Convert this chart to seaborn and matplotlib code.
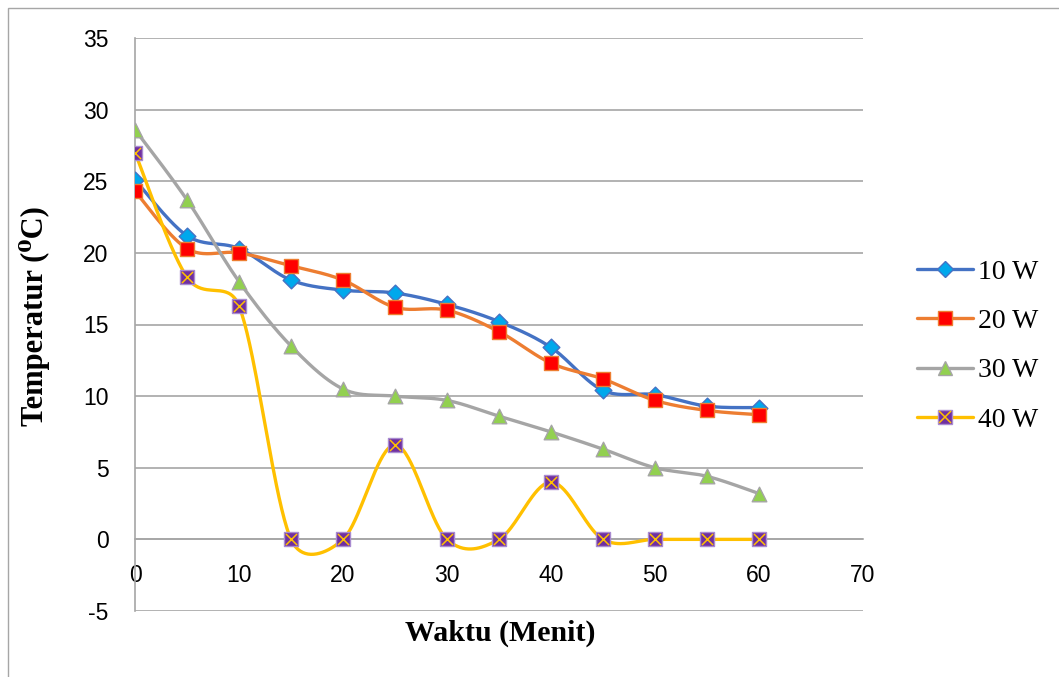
import numpy as np
import pandas as pd
import matplotlib
matplotlib.use("Agg")
import matplotlib.pyplot as plt
import seaborn as sns
from matplotlib.lines import Line2D
from matplotlib.patches import Rectangle

## DATA
waktu = [0, 5, 10, 15, 20, 25, 30, 35, 40, 45, 50, 55, 60]
temp_10w = [25.1, 21.2, 20.3, 18.1, 17.4, 17.2, 16.4, 15.2, 13.4, 10.4, 10.1, 9.3, 9.2]
temp_20w = [24.3, 20.3, 20.0, 19.1, 18.1, 16.2, 16.0, 14.5, 12.3, 11.2, 9.7, 9.0, 8.7]
temp_30w = [28.6, 23.7, 18.0, 13.5, 10.5, 10.0, 9.7, 8.6, 7.5, 6.3, 5.0, 4.4, 3.2]
temp_40w = [27.0, 18.3, 16.3, 0, 0, 6.6, 0, 0, 4.0, 0, 0, 0, 0]
labels = ["10 W", "20 W", "30 W", "40 W"]

## STYLE
line_colors = ["#4472C4", "#ED7D31", "#A5A5A5", "#FFC000"]
face_colors = ["#00A8EC", "#FF0000", "#92D050", "#7030A0"]
edge_colors = ["#4472C4", "#ED7D31", "#A5A5A5", "#A98BD0"]
markers = ["D", "s", "^", "s"]
sizes = [8.5, 10, 10.5, 9.5]

W, H = 1059, 677
SERIF = ["Liberation Serif", "DejaVu Serif"]


def excel_smooth(xs, ys, sx, sy, n=40):
    # bezier spline in pixel space, arm = min(1/6, d12 / (2 * span)) like Excel
    p = np.column_stack([np.asarray(xs, float) * sx, np.asarray(ys, float) * sy])
    m = len(p)
    out = []
    for i in range(m - 1):
        p1, p2 = p[i], p[i + 1]
        p0 = p[i - 1] if i > 0 else p1
        p3 = p[i + 2] if i + 2 < m else p2
        d12 = np.hypot(*(p2 - p1))
        d02 = np.hypot(*(p2 - p0))
        d13 = np.hypot(*(p3 - p1))
        f1 = min(1 / 6, d12 / (2 * d02)) if d02 > 0 else 0
        f2 = min(1 / 6, d12 / (2 * d13)) if d13 > 0 else 0
        c1 = p1 + (p2 - p0) * f1
        c2 = p2 - (p3 - p1) * f2
        t = np.linspace(0, 1, n)[:, None]
        seg = ((1 - t) ** 3) * p1 + 3 * ((1 - t) ** 2) * t * c1 + 3 * (1 - t) * t ** 2 * c2 + t ** 3 * p2
        out.append(seg if i == 0 else seg[1:])
    out = np.vstack(out)
    return out[:, 0] / sx, out[:, 1] / sy


sns.set_theme(style="white")
plt.rcParams["font.family"] = ["Liberation Sans", "DejaVu Sans"]
plt.rcParams["axes.unicode_minus"] = False
plt.rcParams["text.color"] = "black"

fig = plt.figure(figsize=(W / 100, H / 100), dpi=100)
ax = fig.add_axes([135 / W, 1 - 611 / H, (863 - 135) / W, (611 - 38) / H])
ax.set_xlim(0, 70)
ax.set_ylim(-5, 35)

bb = ax.get_window_extent()
sx = bb.width / 70
sy = bb.height / 40

series = [temp_10w, temp_20w, temp_30w, temp_40w]
for k, ys in enumerate(series):
    cx, cy = excel_smooth(waktu, ys, sx, sy)
    curve = pd.DataFrame({"x": cx, "y": cy})
    sns.lineplot(data=curve, x="x", y="y", sort=False, estimator=None,
                 color=line_colors[k], lw=2.4, ax=ax, zorder=3 + k)
    pts = pd.DataFrame({"x": waktu, "y": ys})
    sns.scatterplot(data=pts, x="x", y="y", marker=markers[k], s=sizes[k] ** 2,
                    color=face_colors[k], edgecolor=edge_colors[k], linewidth=1,
                    ax=ax, zorder=3.5 + k)
    if k == 3:
        sns.scatterplot(data=pts, x="x", y="y", marker="x", s=(sizes[k] - 1.5) ** 2,
                        color=line_colors[k], linewidth=1.1, ax=ax, zorder=3.6 + k)

# axes cosmetics (Excel look)
ax.set_yticks(np.arange(-5, 36, 5))
ax.set_xticks(np.arange(0, 71, 10))
ax.yaxis.grid(True, color="#A6A6A6", lw=1.2)
ax.xaxis.grid(False)
for side in ["top", "right"]:
    ax.spines[side].set_visible(False)
ax.spines["left"].set_color("#A6A6A6")
ax.spines["left"].set_linewidth(1.2)
ax.spines["bottom"].set_position(("data", 0))
ax.spines["bottom"].set_color("#A6A6A6")
ax.spines["bottom"].set_linewidth(1.2)
ax.tick_params(axis="both", length=0, labelsize=16.5, colors="black")
ax.tick_params(axis="x", pad=18)
ax.tick_params(axis="y", pad=19)
ax.set_xlabel("")
ax.set_ylabel("")

fig.text(500 / W, 1 - 633 / H, "Waktu (Menit)", ha="center", va="center",
         fontsize=21.5, fontweight="bold", family=SERIF, color="black")
fig.text(35 / W, 1 - 316 / H, "Temperatur (\u2070C)", ha="center", va="center",
         rotation=90, fontsize=22, fontweight="bold", family=SERIF, color="black")

handles = []
for k in range(4):
    h = Line2D([], [], color=line_colors[k], lw=2.4, marker=markers[k],
               markersize=sizes[k], markerfacecolor=face_colors[k],
               markeredgecolor=edge_colors[k], markeredgewidth=1)
    if k == 3:
        hx = Line2D([], [], color=line_colors[k], lw=0, marker="x",
                    markersize=sizes[k] - 1.5, markeredgewidth=1.1)
        h = (h, hx)
    handles.append(h)
leg = fig.legend(handles, labels, loc="center left", bbox_to_anchor=(917 / W, 1 - 346 / H),
                 frameon=False, handlelength=2.0, handletextpad=0.2, labelspacing=0.86,
                 borderpad=0, borderaxespad=0,
                 prop={"family": SERIF, "size": 20})
for txt in leg.get_texts():
    txt.set_color("black")

fig.add_artist(Rectangle((8 / W, -0.1), 2, 1.1 - 8 / H, transform=fig.transFigure,
                         fill=False, edgecolor="#A6A6A6", lw=1))

fig.savefig("out.png", dpi=100)
